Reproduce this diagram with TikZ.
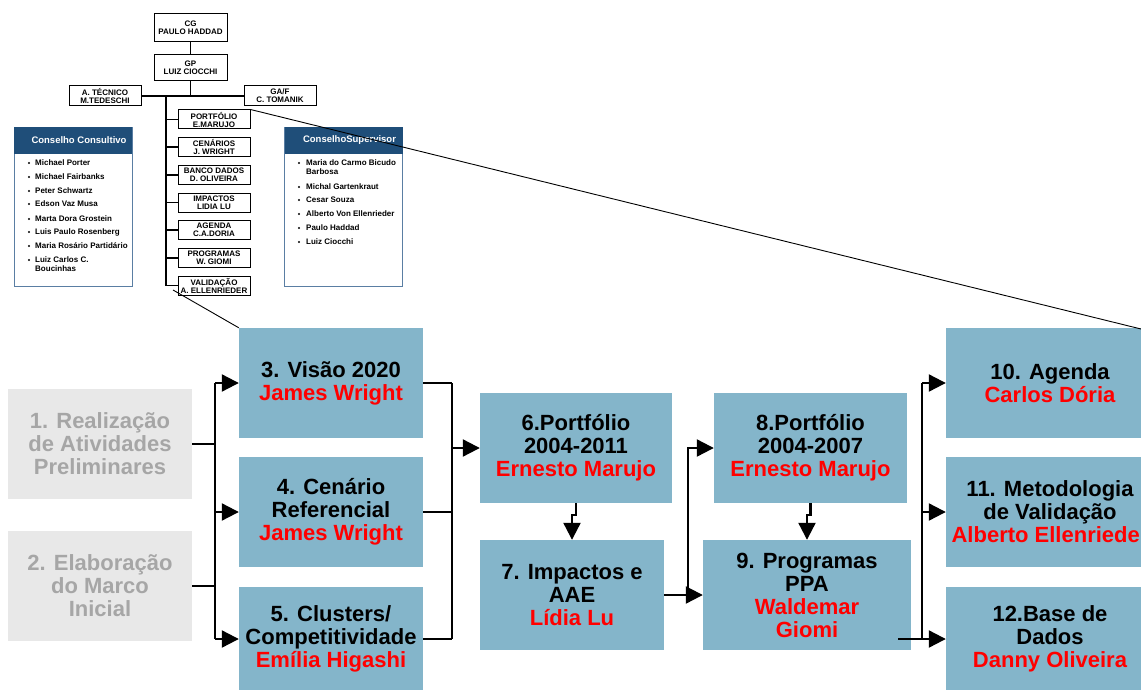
\documentclass[tikz,border=0pt]{standalone}
\usepackage{fontspec}
\setmainfont{Liberation Sans}
\usetikzlibrary{arrows.meta}
\definecolor{stepblue}{HTML}{84B5CA}
\definecolor{headnavy}{HTML}{1F4E79}
\definecolor{framegray}{HTML}{5A7EA3}
\definecolor{prefill}{HTML}{E8E8E8}
\definecolor{pretext}{HTML}{A6A6A6}
\newcommand{\who}[1]{\textcolor{red}{#1}}

\begin{document}
\begin{tikzpicture}[x=1pt,y=-1pt]
  \tikzstyle{orgbox}=[draw, line width=1pt, fill=white, inner sep=0pt, minimum width=72pt, minimum height=20pt, align=center, font=\fontsize{8}{8}\selectfont\bfseries]
  \tikzstyle{orgline}=[line width=1.3pt]
  \tikzstyle{council}=[draw=framegray, line width=0.8pt, fill=white, minimum width=118pt, minimum height=159pt, inner sep=0pt]
  \tikzstyle{councilhead}=[fill=headnavy, text=white, minimum width=118pt, minimum height=27pt, inner sep=0pt, font=\fontsize{9.5}{10}\selectfont\bfseries]
  \tikzstyle{member}=[anchor=west, inner sep=0pt, align=left, font=\fontsize{8}{9}\selectfont\bfseries]
  \tikzstyle{stepbox}=[fill=stepblue, inner sep=0pt, minimum width=184pt, minimum height=110pt, align=center, font=\fontsize{22}{23}\selectfont\bfseries]
  \tikzstyle{prebox}=[stepbox, fill=prefill, text=pretext]
  \tikzstyle{wire}=[line width=2.2pt]
  \tikzstyle{flow}=[wire, -{Triangle[length=17pt,width=17pt]}]
  \path[use as bounding box] (0,0) rectangle (1141,690);
  \clip (0,0) rectangle (1141,690);

  % org chart
  \node[orgbox, minimum width=73pt, minimum height=28pt] (cg) at (190.5,28) {CG\\PAULO HADDAD};
  \node[orgbox, minimum width=73pt, minimum height=26pt] (gp) at (190.5,68) {GP\\LUIZ CIOCCHI};
  \node[orgbox] (tec) at (105,96) {A. T\'ECNICO\\M.TEDESCHI};
  \node[orgbox] (gaf) at (280,96) {GA/F\\C. TOMANIK};
  \coordinate (trunk) at (166,96);
  \draw[orgline] (cg) -- (gp);
  \draw[orgline] (gp.south) -- (gp.south |- tec.east);
  \draw[orgline] (tec.east) -- (gaf.west);
  \foreach \txt/\yy [count=\i] in {PORTF\'OLIO\\E.MARUJO/119.5, CEN\'ARIOS\\J. WRIGHT/147, BANCO DADOS\\D. OLIVEIRA/175, IMPACTOS\\LIDIA LU/202.5, AGENDA\\C.A.DORIA/230, PROGRAMAS\\W. GIOMI/258, VALIDA\c{C}\~AO\\A. ELLENRIEDER/285.5}{
    \node[orgbox, minimum height=19pt] (u\i) at (214,\yy) {\txt};
    \draw[orgline] (trunk |- u\i.west) -- (u\i.west);
  }
  \draw[orgline] (trunk) -- (trunk |- u7.west);

  % councils
  \node[council] (cons) at (73,206.5) {};
  \node[councilhead, anchor=north] (consh) at (cons.north) {};
  \node[text=white, font=\fontsize{9.5}{10}\selectfont\bfseries] (consht) at ([xshift=6pt]consh) {Conselho Consultivo};
  \foreach \nm/\yy/\by [count=\i] in {Michael Porter/163/163, Michael Fairbanks/177/177, Peter Schwartz/191/191, Edson Vaz Musa/204/204, Marta Dora Grostein/219/219, Luis Paulo Rosenberg/232/232, Maria Ros\'ario Partid\'ario/246/246, Luiz Carlos C.\\Boucinhas/264.5/260}{
    \fill (29,\by) circle (1.1pt);
    \node[member] (cm\i) at (35,\yy) {\nm};
  }
  \node[council] (sup) at (343.5,206.5) {};
  \node[councilhead, anchor=north] (suph) at (sup.north) {};
  \node[text=white, font=\fontsize{9.5}{10}\selectfont\bfseries] (supht) at ([xshift=6pt]suph) {ConselhoSupervisor};
  \foreach \nm/\yy/\by [count=\i] in {Maria do Carmo Bicudo\\Barbosa/167.5/163, Michal Gartenkraut/187/187, Cesar Souza/200/200, Alberto Von Ellenrieder/214/214, Paulo Haddad/228/228, Luiz Ciocchi/242/242}{
    \fill (299,\by) circle (1.1pt);
    \node[member] (sm\i) at (306,\yy) {\nm};
  }

  % phases
  \node[prebox] (s1) at (100,444) {1. Realiza\c{c}\~ao\\de Atividades\\Preliminares};
  \node[prebox] (s2) at (100,586) {2. Elabora\c{c}\~ao\\do Marco\\Inicial};
  \node[stepbox] (s3) at (331,383) {3. Vis\~ao 2020\\\who{James Wright}};
  \node[stepbox] (s4) at (331,512) {4. Cen\'ario\\Referencial\\\who{James Wright}};
  \node[stepbox, minimum height=104pt] (s5) at (331,639) {5. Clusters/\\Competitividade\\\who{Em\'ilia Higashi}};
  \node[stepbox, minimum width=192pt] (s6) at (576,448) {6.Portf\'olio\\2004-2011\\\who{Ernesto Marujo}};
  \node[stepbox] (s7) at (572,595) {7. Impactos e\\AAE\\\who{L\'idia Lu}};
  \node[stepbox, minimum width=193pt] (s8) at (810.5,448) {8.Portf\'olio\\2004-2007\\\who{Ernesto Marujo}};
  \node[stepbox, minimum width=208pt] (s9) at (807,595) {9. Programas\\PPA\\\who{Waldemar}\\\who{Giomi}};
  \node[stepbox, minimum width=208pt] (s10) at (1050,383) {10. Agenda\\\who{Carlos D\'oria}};
  \node[stepbox, minimum width=208pt] (s11) at (1050,512) {11. Metodologia\\de Valida\c{c}\~ao\\\who{Alberto Ellenrieder}};
  \node[stepbox, minimum width=208pt, minimum height=104pt] (s12) at (1050,639) {12.Base de\\Dados\\\who{Danny Oliveira}};

  \coordinate (splitA) at (215,0);
  \coordinate (joinA) at (452,0);
  \coordinate (splitB) at (688,0);
  \coordinate (splitC) at (922,0);
  \draw[wire] (s1.east) -- (splitA |- s1.east);
  \draw[wire] (s2.east) -- (splitA |- s2.east);
  \draw[wire] (splitA |- s3.west) -- (splitA |- s5.west);
  \foreach \n in {3,4,5}{
    \draw[flow] (splitA |- s\n.west) -- (s\n.west);
    \draw[wire] (s\n.east) -- (joinA |- s\n.east);
  }
  \draw[wire] (joinA |- s3.east) -- (joinA |- s5.east);
  \draw[flow] (joinA |- s6.west) -- (s6.west);
  \draw[flow] (s6.south) -- ++(0,12) -| (s7.north);
  \draw[flow] (s7.east) -- (s9.west);
  \draw[flow] (splitB |- s7.east) |- (s8.west);
  \draw[flow] (s8.south) -- ++(0,12) -| (s9.north);
  \draw[wire] ([xshift=-13pt]s9.east |- s12.west) -- (splitC |- s12.west);
  \draw[wire] (splitC |- s10.west) -- (splitC |- s12.west);
  \foreach \n in {10,11,12}{
    \draw[flow] (splitC |- s\n.west) -- (s\n.west);
  }

  % zoom lines
  \coordinate (zoomL) at (173,290);
  \coordinate (zoomR) at (1141,329);
  \draw[line width=0.9pt] (u1.north east) -- (zoomR);
  \draw[line width=0.9pt] (zoomL) -- (s3.north west);
\end{tikzpicture}
\end{document}
